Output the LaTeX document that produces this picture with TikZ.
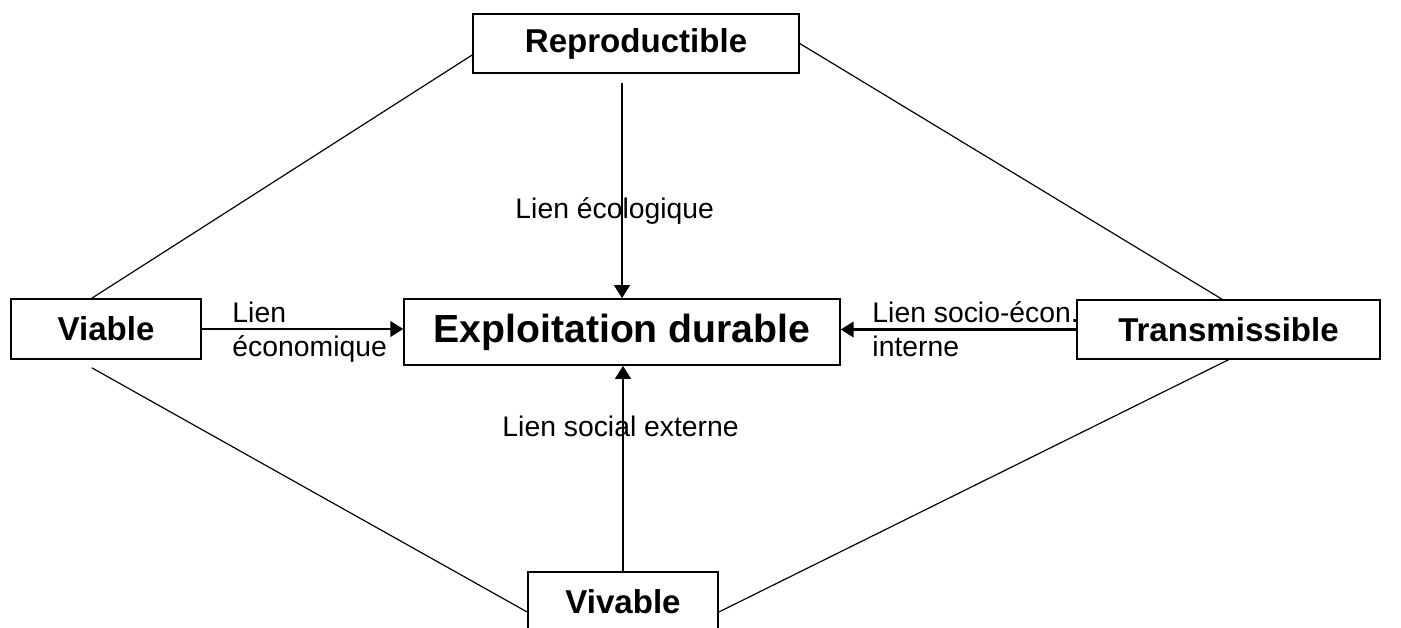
\documentclass[tikz,border=0pt]{standalone}
\usepackage{fontspec}
\setmainfont{Liberation Sans}
\usetikzlibrary{arrows.meta}
\tikzset{
  pole/.style={draw,line width=0.6pt,inner sep=0pt,font=\fontsize{14}{16}\selectfont\bfseries},
  lien/.style={line width=1.2pt,-{Triangle[length=5.5pt,width=6.5pt]}},
  trait/.style={line width=0.5pt},
  etiq/.style={anchor=base west,inner sep=0pt,align=left,font=\fontsize{12}{14}\selectfont}
}
\begin{document}
\begin{tikzpicture}[x=0.4235pt,y=-0.4235pt]
                \useasboundingbox (0,0) rectangle (1401,628);
                %% poles
                \node[pole,minimum width=138.1pt,minimum height=25pt] (repro) at (636,43.5) {Reproductible};
                \node[pole,minimum width=80.5pt,minimum height=25.4pt] (viable) at (106,329) {Viable};
                \node[pole,minimum width=128.3pt,minimum height=25pt] (trans) at (1228.5,329.5) {Transmissible};
                \node[pole,minimum width=80.5pt,minimum height=25.4pt] (vivable) at (623,602) {Vivable};
                \node[pole,minimum width=184.6pt,minimum height=28pt,font=\fontsize{16.6}{20}\selectfont\bfseries] (central) at (622,332) {Exploitation durable};
                %% labels (base = last line)
                \node[etiq] (eco) at (515,218) {Lien écologique};
                \node[etiq] (soc) at (502,436) {Lien social externe};
                \node[etiq] (econ) at (232,356) {Lien\\économique};
                \node[etiq] (inter) at (872,356) {Lien socio-écon.\\interne};
                %% diamond
                \draw[trait] (repro.184) -- (viable.115);
                \draw[trait] (repro.east) -- (trans.102);
                \draw[trait,shorten <=7pt] (viable.227) -- (vivable.186);
                \draw[trait] (trans.south) -- (vivable.354);
                %% links
                \draw[lien,shorten <=3.8pt] (repro.south -| central.north) -- (central.north);
                \draw[lien] (vivable.north) -- (vivable.north |- central.south);
                \draw[lien] (viable.east) -- (viable.east -| central.west);
                \draw[lien] (trans.west) -- (trans.west -| central.east);
            \end{tikzpicture}
\end{document}
